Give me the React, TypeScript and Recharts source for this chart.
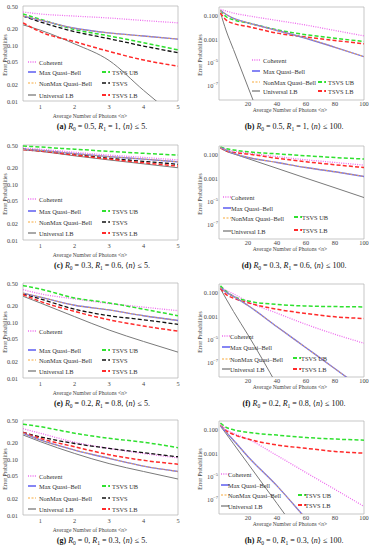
import React from "react";
import { LineChart, Line, XAxis, YAxis, ReferenceArea } from "recharts";

// photon numbers sampled in the two kinds of panels
const smallN = [0.5, 1, 2, 3, 4, 5];
const largeN = [1, 5, 10, 20, 40, 60, 80, 100];

const smallXTicks = [1, 2, 3, 4, 5];
const largeXTicks = [20, 40, 60, 80, 100];
const smallYTicks = [0.01, 0.02, 0.05, 0.1, 0.2, 0.5];
const smallYLabels = ["0.01", "0.02", "0.05", "0.10", "0.20", "0.50"];
const largeYTicks = [0.1, 0.001, 0.00001, 0.0000001];
const largeYLabels = ["0.100", "0.001", "10|-5", "10|-7"];

// (a) R0 = 0.5, R1 = 1
const aCoherent = [0.39, 0.36, 0.33, 0.305, 0.275, 0.25];
const aMaxQB = [0.33, 0.28, 0.2, 0.165, 0.145, 0.128];
const aNonMaxQB = [0.33, 0.28, 0.2, 0.165, 0.145, 0.128];
const aUniversal = [0.23, 0.185, 0.105, 0.053, 0.0155, 0.0048];
const aTsvsUB = [0.36, 0.29, 0.19, 0.146, 0.11, 0.082];
const aTsvs = [0.33, 0.26, 0.174, 0.13, 0.096, 0.073];
const aTsvsLB = [0.25, 0.174, 0.115, 0.077, 0.054, 0.042];

// (b) R0 = 0.5, R1 = 1, large n
const bCoherent = [0.36, 0.25, 0.17, 0.1, 0.04, 0.016, 0.0055, 0.0019];
const bMaxQB = [0.28, 0.128, 0.06, 0.025, 0.0055, 0.0012, 0.0002, 0.000032];
const bNonMaxQB = [0.28, 0.128, 0.06, 0.025, 0.0055, 0.0012, 0.0002, 0.000032];
const bUniversal = [0.185, 0.005, 1.3e-4, 8e-8, 3e-14, 1e-20, 1e-26, 1e-32];
const bTsvsUB = [0.29, 0.082, 0.045, 0.024, 0.0063, 0.0024, 0.0012, 0.00063];
const bTsvsLB = [0.174, 0.042, 0.022, 0.012, 0.0033, 0.0015, 0.00077, 0.0004];

// (c) R0 = 0.3, R1 = 0.6
const cCoherent = [0.44, 0.42, 0.37, 0.33, 0.3, 0.27];
const cMaxQB = [0.42, 0.4, 0.35, 0.31, 0.28, 0.25];
const cNonMaxQB = [0.42, 0.4, 0.35, 0.31, 0.28, 0.25];
const cUniversal = [0.41, 0.385, 0.32, 0.27, 0.23, 0.196];
const cTsvsUB = [0.48, 0.46, 0.42, 0.385, 0.355, 0.33];
const cTsvs = [0.42, 0.395, 0.34, 0.29, 0.255, 0.226];
const cTsvsLB = [0.415, 0.39, 0.33, 0.28, 0.24, 0.21];

// (d) R0 = 0.3, R1 = 0.6, large n
const dCoherent = [0.43, 0.27, 0.21, 0.14, 0.07, 0.037, 0.022, 0.013];
const dMaxQB = [0.4, 0.25, 0.13, 0.059, 0.022, 0.0081, 0.0035, 0.0014];
const dNonMaxQB = [0.4, 0.25, 0.13, 0.059, 0.022, 0.0081, 0.0035, 0.0014];
const dUniversal = [0.385, 0.196, 0.12, 0.047, 0.0069, 0.001, 0.00015, 0.000022];
const dTsvsUB = [0.46, 0.33, 0.26, 0.18, 0.12, 0.082, 0.058, 0.043];
const dTsvsLB = [0.39, 0.21, 0.16, 0.115, 0.05, 0.025, 0.014, 0.0081];

// (e) R0 = 0.2, R1 = 0.8
const eCoherent = [0.38, 0.32, 0.26, 0.215, 0.185, 0.16];
const eMaxQB = [0.33, 0.28, 0.2, 0.165, 0.13, 0.107];
const eNonMaxQB = [0.33, 0.28, 0.2, 0.165, 0.13, 0.107];
const eUniversal = [0.29, 0.22, 0.125, 0.072, 0.045, 0.029];
const eTsvsUB = [0.45, 0.39, 0.27, 0.22, 0.17, 0.13];
const eTsvs = [0.32, 0.26, 0.17, 0.13, 0.11, 0.091];
const eTsvsLB = [0.31, 0.235, 0.155, 0.11, 0.085, 0.069];

// (f) R0 = 0.2, R1 = 0.8, large n
const fCoherent = [0.32, 0.16, 0.08, 0.017, 0.0018, 0.0002, 0.000028, 0.0000049];
const fMaxQB = [0.28, 0.107, 0.05, 0.0081, 0.000125, 0.000002, 3.2e-8, 5e-10];
const fNonMaxQB = [0.28, 0.107, 0.05, 0.0081, 0.000125, 0.000002, 3.2e-8, 5e-10];
const fUniversal = [0.22, 0.029, 0.0025, 0.000025, 1.3e-9, 4e-14, 1e-18, 1e-22];
const fTsvsUB = [0.39, 0.13, 0.05, 0.02, 0.01, 0.0074, 0.0066, 0.0062];
const fTsvsLB = [0.235, 0.069, 0.035, 0.014, 0.0039, 0.0017, 0.00088, 0.00063];

// (g) R0 = 0, R1 = 0.3
const gCoherent = [0.35, 0.29, 0.2, 0.155, 0.126, 0.105];
const gMaxQB = [0.29, 0.22, 0.145, 0.103, 0.075, 0.06];
const gNonMaxQB = [0.29, 0.22, 0.145, 0.103, 0.075, 0.06];
const gUniversal = [0.27, 0.205, 0.126, 0.083, 0.06, 0.044];
const gTsvsUB = [0.42, 0.38, 0.29, 0.235, 0.2, 0.16];
const gTsvs = [0.3, 0.25, 0.19, 0.155, 0.13, 0.11];
const gTsvsLB = [0.3, 0.235, 0.166, 0.12, 0.095, 0.081];

// (h) R0 = 0, R1 = 0.3, large n
const hCoherent = [0.29, 0.105, 0.05, 0.016, 0.00063, 0.000022, 8e-7, 2.8e-8];
const hMaxQB = [0.22, 0.06, 0.0126, 0.0005, 0.0000016, 2.5e-9, 4e-12, 6e-15];
const hNonMaxQB = [0.22, 0.06, 0.0126, 0.0005, 0.0000016, 2.5e-9, 4e-12, 6e-15];
const hUniversal = [0.205, 0.044, 0.0063, 0.000126, 5e-8, 2e-11, 1e-14, 4e-18];
const hTsvsUB = [0.38, 0.16, 0.1, 0.06, 0.035, 0.022, 0.016, 0.013];
const hTsvsLB = [0.235, 0.081, 0.04, 0.016, 0.005, 0.0026, 0.0014, 0.001];

// captions
const captionLetters = ["a", "b", "c", "d", "e", "f", "g", "h"];
const r0Values = ["0.5", "0.5", "0.3", "0.3", "0.2", "0.2", "0", "0"];
const r1Values = ["1", "1", "0.6", "0.6", "0.8", "0.8", "0.3", "0.3"];
const nLimits = ["5", "100", "5", "100", "5", "100", "5", "100"];

const FONT = '"Liberation Serif", "DejaVu Serif", serif';
const ROW_TOP = [0, 139, 277, 414];

const SERIES: Record<string, { label: string; color: string; dash?: string; width: number }> = {
  universal: { label: "Universal LB", color: "#7a7a7a", width: 1 },
  coherent: { label: "Coherent", color: "#ee6cee", dash: "1 1.3", width: 1.3 },
  tsvsUB: { label: "TSVS UB", color: "#2fe02f", dash: "4 2.2", width: 1.5 },
  tsvs: { label: "TSVS", color: "#111111", dash: "4 2.2", width: 1.3 },
  tsvsLB: { label: "TSVS LB", color: "#ff2a2a", dash: "4 2.2", width: 1.5 },
  maxQB: { label: "Max Quasi\u2013Bell", color: "#6f6ff2", width: 1.4 },
  nonMaxQB: { label: "NonMax Quasi\u2013Bell", color: "#f7a93a", dash: "2 1.5", width: 0.9 },
};
const DRAW_ORDER = ["universal", "coherent", "tsvsUB", "tsvs", "tsvsLB", "maxQB", "nonMaxQB"];

function buildRows(xs: number[], cols: Record<string, number[]>) {
  return xs.map((x, i) => {
    const row: Record<string, number> = { x };
    for (const k of Object.keys(cols)) row[k] = cols[k][i];
    return row;
  });
}

type LegendLayout = { c1: [number, number]; r1: number[]; c2: [number, number]; r2: number[] };

const panels: { col: number; row: number; series: Record<string, number[]>; legend: LegendLayout }[] = [
  {
    col: 0, row: 0,
    series: { coherent: aCoherent, maxQB: aMaxQB, nonMaxQB: aNonMaxQB, universal: aUniversal, tsvsUB: aTsvsUB, tsvs: aTsvs, tsvsLB: aTsvsLB },
    legend: { c1: [28, 39], r1: [62, 72, 83, 95], c2: [102, 112], r2: [72, 83, 95] },
  },
  {
    col: 1, row: 0,
    series: { coherent: bCoherent, maxQB: bMaxQB, nonMaxQB: bNonMaxQB, universal: bUniversal, tsvsUB: bTsvsUB, tsvsLB: bTsvsLB },
    legend: { c1: [252, 263], r1: [60, 71, 82, 91], c2: [318, 328], r2: [82, 91] },
  },
  {
    col: 0, row: 1,
    series: { coherent: cCoherent, maxQB: cMaxQB, nonMaxQB: cNonMaxQB, universal: cUniversal, tsvsUB: cTsvsUB, tsvs: cTsvs, tsvsLB: cTsvsLB },
    legend: { c1: [28, 39], r1: [60, 72, 83, 94], c2: [102, 112], r2: [72, 83, 94] },
  },
  {
    col: 1, row: 1,
    series: { coherent: dCoherent, maxQB: dMaxQB, nonMaxQB: dNonMaxQB, universal: dUniversal, tsvsUB: dTsvsUB, tsvsLB: dTsvsLB },
    legend: { c1: [223, 231], r1: [58, 69, 79, 92], c2: [294, 302], r2: [78, 91] },
  },
  {
    col: 0, row: 2,
    series: { coherent: eCoherent, maxQB: eMaxQB, nonMaxQB: eNonMaxQB, universal: eUniversal, tsvsUB: eTsvsUB, tsvs: eTsvs, tsvsLB: eTsvsLB },
    legend: { c1: [28, 39], r1: [54, 73, 83, 94], c2: [102, 112], r2: [73, 83, 94] },
  },
  {
    col: 1, row: 2,
    series: { coherent: fCoherent, maxQB: fMaxQB, nonMaxQB: fNonMaxQB, universal: fUniversal, tsvsUB: fTsvsUB, tsvsLB: fTsvsLB },
    legend: { c1: [222, 230], r1: [59, 70, 82, 92], c2: [293, 301], r2: [81, 92] },
  },
  {
    col: 0, row: 3,
    series: { coherent: gCoherent, maxQB: gMaxQB, nonMaxQB: gNonMaxQB, universal: gUniversal, tsvsUB: gTsvsUB, tsvs: gTsvs, tsvsLB: gTsvsLB },
    legend: { c1: [28, 39], r1: [62, 72, 84, 95], c2: [102, 112], r2: [72, 84, 95] },
  },
  {
    col: 1, row: 3,
    series: { coherent: hCoherent, maxQB: hMaxQB, nonMaxQB: hNonMaxQB, universal: hUniversal, tsvsUB: hTsvsUB, tsvsLB: hTsvsLB },
    legend: { c1: [221, 228], r1: [60, 71, 81, 92], c2: [298, 305], r2: [81, 91] },
  },
];

function YTickSmall(props: any) {
  const i = smallYTicks.indexOf(props.payload.value);
  return (
    <text x={18} y={props.y} textAnchor="end" dominantBaseline="central" fontSize={6.3} fontFamily={FONT} fill="#444">
      {smallYLabels[i]}
    </text>
  );
}

function YTickLarge(props: any) {
  const i = largeYTicks.indexOf(props.payload.value);
  const parts = largeYLabels[i].split("|");
  return (
    <text x={30} y={props.y} textAnchor="end" dominantBaseline="central" fontSize={6.3} fontFamily={FONT} fill="#444">
      {parts[0]}
      {parts[1] && (
        <tspan dy={-2.6} fontSize={4.4}>
          {parts[1].replace("-", "\u2212")}
        </tspan>
      )}
    </text>
  );
}

function XTick(bottom: number) {
  return (props: any) => (
    <text x={props.x} y={bottom} textAnchor="middle" dominantBaseline="central" fontSize={6.3} fontFamily={FONT} fill="#444">
      {props.payload.value}
    </text>
  );
}

function Panel({ col, series }: { col: number; series: Record<string, number[]> }) {
  const small = col === 0;
  const data = buildRows(small ? smallN : largeN, series);
  const xDomain = small ? [0.5, 5] : [0, 100];
  const yDomain = small ? [0.01, 0.5] : [Math.pow(10, -8.2), Math.pow(10, -0.25)];
  return (
    <LineChart
      width={188}
      height={112}
      data={data}
      margin={small ? { top: 6, right: 10, left: 3, bottom: 0 } : { top: 7, right: 12, left: 0, bottom: 0 }}
    >
      <XAxis
        dataKey="x"
        type="number"
        domain={xDomain}
        ticks={small ? smallXTicks : largeXTicks}
        interval={0}
        allowDataOverflow
        axisLine={false}
        tickLine={false}
        height={small ? 11 : 12}
        tick={XTick(small ? 106 : 103.5)}
      />
      <YAxis
        type="number"
        scale="log"
        domain={yDomain}
        ticks={small ? smallYTicks : largeYTicks}
        interval={0}
        allowDataOverflow
        axisLine={false}
        tickLine={false}
        width={small ? 20 : 31}
        tick={small ? YTickSmall : YTickLarge}
      />
      <ReferenceArea
        x1={xDomain[0]}
        x2={xDomain[1]}
        y1={yDomain[0]}
        y2={yDomain[1]}
        fill="none"
        stroke="#b0b0b0"
        strokeWidth={0.7}
        ifOverflow="visible"
      />
      {DRAW_ORDER.filter((k) => series[k]).map((k) => (
        <Line
          key={k}
          dataKey={k}
          type="monotone"
          stroke={SERIES[k].color}
          strokeWidth={SERIES[k].width}
          strokeDasharray={SERIES[k].dash}
          dot={false}
          activeDot={false}
          isAnimationActive={false}
        />
      ))}
    </LineChart>
  );
}

function LegendItem({ k, sx, tx, y }: { k: string; sx: number; tx: number; y: number }) {
  const s = SERIES[k];
  return (
    <g>
      <line x1={sx} x2={sx + 8} y1={y} y2={y} stroke={s.color} strokeWidth={s.width + 0.3} strokeDasharray={s.dash} />
      <text x={tx} y={y} dominantBaseline="central" fontSize={6.4} fontFamily={FONT} fill="#333">
        {s.label}
      </text>
    </g>
  );
}

export default function App() {
  return (
    <div style={{ position: "absolute", left: 0, top: 0, width: 376, height: 550, overflow: "hidden", background: "#fff", fontFamily: FONT }}>
      {panels.map((p, i) => (
        <div key={i} style={{ position: "absolute", left: p.col === 0 ? 0 : 188, top: ROW_TOP[p.row], width: 188, height: 112 }}>
          <Panel col={p.col} series={p.series} />
        </div>
      ))}
      <svg width={376} height={550} style={{ position: "absolute", left: 0, top: 0, pointerEvents: "none" }}>
        {panels.map((p, i) => {
          const top = ROW_TOP[p.row];
          const small = p.col === 0;
          const c1 = ["coherent", "maxQB", "nonMaxQB", "universal"];
          const c2 = p.series.tsvs ? ["tsvsUB", "tsvs", "tsvsLB"] : ["tsvsUB", "tsvsLB"];
          const ylx = small ? 5 : 200;
          return (
            <g key={i}>
              <text
                x={ylx}
                y={top + 55}
                transform={`rotate(-90 ${ylx} ${top + 55})`}
                textAnchor="middle"
                dominantBaseline="central"
                fontSize={5.6}
                fontFamily={FONT}
                fill="#444"
              >
                Error Probabilities
              </text>
              <text
                x={small ? 90 : 290}
                y={top + (small ? 116 : 109.5)}
                textAnchor="middle"
                dominantBaseline="central"
                fontSize={5.6}
                fontFamily={FONT}
                fill="#444"
              >
                Average Number of Photons {"<"}
                <tspan fontStyle="italic">n</tspan>
                {">"}
              </text>
              {c1.map((k, j) => (
                <LegendItem key={k} k={k} sx={p.legend.c1[0]} tx={p.legend.c1[1]} y={top + p.legend.r1[j]} />
              ))}
              {c2.map((k, j) => (
                <LegendItem key={k} k={k} sx={p.legend.c2[0]} tx={p.legend.c2[1]} y={top + p.legend.r2[j]} />
              ))}
            </g>
          );
        })}
      </svg>
      {panels.map((p, i) => (
        <div
          key={"cap" + i}
          style={{
            position: "absolute",
            left: p.col === 0 ? 22 : 214,
            top: ROW_TOP[p.row] + 121,
            width: 160,
            textAlign: "center",
            fontSize: 8,
            lineHeight: "12px",
            color: "#111",
            whiteSpace: "nowrap",
          }}
        >
          <b>({captionLetters[i]})</b> <i>R</i>
          <sub style={{ fontSize: 5.5, verticalAlign: "-1.5px" }}>0</sub> = {r0Values[i]}, <i>R</i>
          <sub style={{ fontSize: 5.5, verticalAlign: "-1.5px" }}>1</sub> = {r1Values[i]}, {"\u27E8"}
          <i>n</i>
          {"\u27E9"} {"\u2264"} {nLimits[i]}.
        </div>
      ))}
    </div>
  );
}
